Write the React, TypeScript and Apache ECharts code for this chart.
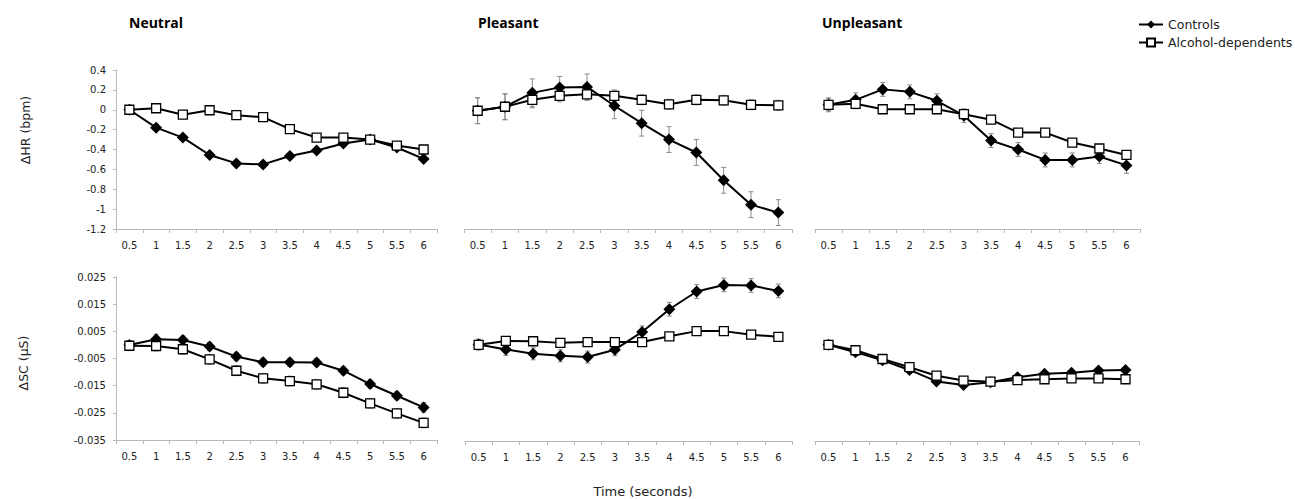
import React, { useEffect, useRef } from 'react';
import * as echarts from 'echarts';

const timeLabels = ['0.5', '1', '1.5', '2', '2.5', '3', '3.5', '4', '4.5', '5', '5.5', '6'];
const panelTitles = ['Neutral', 'Pleasant', 'Unpleasant'];
const groupNames = ['Controls', 'Alcohol-dependents'];

// ΔHR (bpm)
const hrNeutralControls = [0, -0.18, -0.28, -0.455, -0.54, -0.55, -0.465, -0.41, -0.34, -0.3, -0.38, -0.495];
const hrNeutralAlcohol = [0, 0.015, -0.05, -0.005, -0.055, -0.075, -0.195, -0.28, -0.28, -0.3, -0.36, -0.4];
const hrPleasantControls = [-0.01, 0.03, 0.17, 0.225, 0.23, 0.04, -0.135, -0.3, -0.43, -0.71, -0.955, -1.035];
const hrPleasantAlcohol = [-0.01, 0.03, 0.1, 0.14, 0.155, 0.14, 0.1, 0.055, 0.1, 0.095, 0.05, 0.045];
const hrUnpleasantControls = [0.05, 0.1, 0.205, 0.18, 0.09, -0.06, -0.31, -0.4, -0.505, -0.505, -0.47, -0.56];
const hrUnpleasantAlcohol = [0.05, 0.06, 0.005, 0.005, 0.005, -0.045, -0.1, -0.23, -0.23, -0.33, -0.39, -0.455];

const hrNeutralControlsErr = [0.03, 0.03, 0.03, 0.03, 0.03, 0.03, 0.03, 0.03, 0.03, 0.03, 0.03, 0.03];
const hrNeutralAlcoholErr = [0.03, 0.03, 0.03, 0.03, 0.03, 0.03, 0.03, 0.03, 0.03, 0.03, 0.03, 0.03];
const hrPleasantControlsErr = [0.13, 0.13, 0.14, 0.11, 0.13, 0.13, 0.13, 0.13, 0.13, 0.13, 0.13, 0.13];
const hrPleasantAlcoholErr = [0.13, 0.13, 0.08, 0.06, 0.06, 0.06, 0.05, 0.05, 0.05, 0.05, 0.05, 0.05];
const hrUnpleasantControlsErr = [0.06, 0.07, 0.07, 0.07, 0.07, 0.07, 0.07, 0.07, 0.07, 0.07, 0.07, 0.08];
const hrUnpleasantAlcoholErr = [0.07, 0.05, 0.04, 0.04, 0.04, 0.04, 0.04, 0.04, 0.04, 0.04, 0.04, 0.04];

// ΔSC (µS)
const scNeutralControls = [0, 0.0021, 0.0018, -0.0006, -0.0043, -0.0064, -0.0064, -0.0065, -0.0095, -0.0144, -0.0187, -0.023];
const scNeutralAlcohol = [-0.0003, -0.0004, -0.0016, -0.0053, -0.0095, -0.0123, -0.0133, -0.0145, -0.0176, -0.0215, -0.0252, -0.0287];
const scPleasantControls = [0.0003, -0.0015, -0.0031, -0.0038, -0.0043, -0.0016, 0.0049, 0.0132, 0.0197, 0.0221, 0.0219, 0.0199];
const scPleasantAlcohol = [0.0002, 0.0016, 0.0015, 0.0009, 0.0012, 0.0012, 0.0012, 0.0033, 0.0052, 0.0052, 0.0039, 0.0031];
const scUnpleasantControls = [0.0002, -0.0025, -0.0055, -0.009, -0.0132, -0.0145, -0.0135, -0.0117, -0.0104, -0.01, -0.0092, -0.009];
const scUnpleasantAlcohol = [0.0002, -0.0018, -0.005, -0.008, -0.0111, -0.0129, -0.0133, -0.0127, -0.0124, -0.0121, -0.0121, -0.0124];

const scNeutralControlsErr = [0.0015, 0.0018, 0.0015, 0.0015, 0.0015, 0.0015, 0.0015, 0.0015, 0.0015, 0.0015, 0.0015, 0.0018];
const scNeutralAlcoholErr = [0.0018, 0.0018, 0.0018, 0.0018, 0.0018, 0.0018, 0.0018, 0.0018, 0.0018, 0.0018, 0.0018, 0.0018];
const scPleasantControlsErr = [0.002, 0.0022, 0.0022, 0.0022, 0.0022, 0.0022, 0.0022, 0.0025, 0.0025, 0.0025, 0.0025, 0.0025];
const scPleasantAlcoholErr = [0.0018, 0.0012, 0.0012, 0.0012, 0.0012, 0.0012, 0.0012, 0.0012, 0.0012, 0.0012, 0.0012, 0.0012];
const scUnpleasantControlsErr = [0.0008, 0.0008, 0.0008, 0.0008, 0.0008, 0.0008, 0.0008, 0.0008, 0.0008, 0.0008, 0.0008, 0.0008];
const scUnpleasantAlcoholErr = [0.0008, 0.0008, 0.0008, 0.0008, 0.0008, 0.0008, 0.0008, 0.0008, 0.0008, 0.0008, 0.0008, 0.0008];

const hrAxis = { min: -1.2, max: 0.4, interval: 0.2 };
const scAxis = { min: -0.035, max: 0.025, interval: 0.01 };

const panels = [
  { c: hrNeutralControls, a: hrNeutralAlcohol, ce: hrNeutralControlsErr, ae: hrNeutralAlcoholErr, ax: hrAxis, showY: true },
  { c: hrPleasantControls, a: hrPleasantAlcohol, ce: hrPleasantControlsErr, ae: hrPleasantAlcoholErr, ax: hrAxis, showY: false },
  { c: hrUnpleasantControls, a: hrUnpleasantAlcohol, ce: hrUnpleasantControlsErr, ae: hrUnpleasantAlcoholErr, ax: hrAxis, showY: false },
  { c: scNeutralControls, a: scNeutralAlcohol, ce: scNeutralControlsErr, ae: scNeutralAlcoholErr, ax: scAxis, showY: true },
  { c: scPleasantControls, a: scPleasantAlcohol, ce: scPleasantControlsErr, ae: scPleasantAlcoholErr, ax: scAxis, showY: false },
  { c: scUnpleasantControls, a: scUnpleasantAlcohol, ce: scUnpleasantControlsErr, ae: scUnpleasantAlcoholErr, ax: scAxis, showY: false },
];

const gridBoxes = [
  { left: 116, top: 70, width: 321, height: 159 },
  { left: 464, top: 70, width: 328, height: 159 },
  { left: 815, top: 70, width: 325, height: 159 },
  { left: 116, top: 277, width: 321, height: 163 },
  { left: 465, top: 277, width: 327, height: 164 },
  { left: 815, top: 277, width: 324, height: 164 },
];

const FONT = 'DejaVu Sans';
const AXIS_GREY = '#b8b8b8';
const TEXT = '#222';

function errorSeries(values: number[], errs: number[], idx: number) {
  return {
    type: 'custom',
    xAxisIndex: idx,
    yAxisIndex: idx,
    z: 1,
    silent: true,
    encode: { x: 0, y: 1 },
    data: values.map((v, i) => [i, v, errs[i]]),
    renderItem: (params: any, api: any) => {
      const x = api.value(0);
      const y = api.value(1);
      const e = api.value(2);
      const top = api.coord([x, y + e]);
      const bot = api.coord([x, y - e]);
      const w = 2.5;
      const style = { stroke: '#8a8a8a', lineWidth: 1 };
      return {
        type: 'group',
        children: [
          { type: 'line', shape: { x1: top[0], y1: top[1], x2: bot[0], y2: bot[1] }, style },
          { type: 'line', shape: { x1: top[0] - w, y1: top[1], x2: top[0] + w, y2: top[1] }, style },
          { type: 'line', shape: { x1: bot[0] - w, y1: bot[1], x2: bot[0] + w, y2: bot[1] }, style },
        ],
      };
    },
  };
}

function buildOption() {
  const grid = gridBoxes.map((g) => ({ ...g, containLabel: false }));
  const xAxis = panels.map((_, i) => ({
    type: 'category',
    gridIndex: i,
    data: timeLabels,
    boundaryGap: true,
    axisLine: { show: true, onZero: false, lineStyle: { color: AXIS_GREY, width: 1 } },
    axisTick: { show: true, length: 4, interval: 0, lineStyle: { color: AXIS_GREY } },
    axisLabel: { interval: 0, margin: 11, fontFamily: FONT, fontSize: 10, color: TEXT },
    splitLine: { show: false },
  }));
  const yAxis = panels.map((p, i) => ({
    type: 'value',
    gridIndex: i,
    min: p.ax.min,
    max: p.ax.max,
    interval: p.ax.interval,
    show: p.showY,
    axisLine: { show: true, lineStyle: { color: AXIS_GREY, width: 1 } },
    axisTick: { show: true, length: 3, lineStyle: { color: AXIS_GREY } },
    axisLabel: { margin: 10, fontFamily: FONT, fontSize: 10, color: TEXT },
    splitLine: { show: false },
  }));
  const series: any[] = [];
  panels.forEach((p, i) => {
    series.push(errorSeries(p.c, p.ce, i));
    series.push(errorSeries(p.a, p.ae, i));
    series.push({
      type: 'line',
      name: groupNames[0],
      xAxisIndex: i,
      yAxisIndex: i,
      data: p.c,
      z: 3,
      symbol: 'diamond',
      symbolSize: 12,
      showAllSymbol: true,
      lineStyle: { color: '#000', width: 2 },
      itemStyle: { color: '#000', borderColor: '#000', borderWidth: 0 },
    });
    series.push({
      type: 'line',
      name: groupNames[1],
      xAxisIndex: i,
      yAxisIndex: i,
      data: p.a,
      z: 4,
      symbol: 'rect',
      symbolSize: 9,
      showAllSymbol: true,
      lineStyle: { color: '#000', width: 2 },
      itemStyle: { color: '#fff', borderColor: '#000', borderWidth: 1.3 },
    });
  });

  const titleXs = [129, 478, 822];
  const graphic: any[] = [
    ...panelTitles.map((t, i) => ({
      type: 'text',
      x: titleXs[i],
      y: 22,
      style: {
        text: t,
        fontFamily: 'Open Sans',
        fontWeight: 'bold',
        fontSize: 14,
        fill: '#000',
        textAlign: 'left',
        textVerticalAlign: 'middle',
      },
    })),
    {
      type: 'text',
      x: 25,
      y: 130,
      rotation: Math.PI / 2,
      style: { text: 'ΔHR (bpm)', fontFamily: FONT, fontSize: 12.5, fill: TEXT, textAlign: 'center', textVerticalAlign: 'middle' },
    },
    {
      type: 'text',
      x: 23,
      y: 363,
      rotation: Math.PI / 2,
      style: { text: 'ΔSC (µS)', fontFamily: FONT, fontSize: 12.5, fill: TEXT, textAlign: 'center', textVerticalAlign: 'middle' },
    },
    {
      type: 'text',
      x: 643,
      y: 491,
      style: { text: 'Time (seconds)', fontFamily: FONT, fontSize: 13, fill: TEXT, textAlign: 'center', textVerticalAlign: 'middle' },
    },
  ];

  return {
    animation: false,
    backgroundColor: '#fff',
    grid,
    xAxis,
    yAxis,
    series,
    graphic,
    legend: {
      data: groupNames,
      orient: 'vertical',
      left: 1133,
      top: 12,
      itemWidth: 24,
      itemHeight: 10,
      itemGap: 3,
      selectedMode: false,
      textStyle: { fontFamily: FONT, fontSize: 12.5, color: TEXT, lineHeight: 15 },
    },
  };
}

export default function App() {
  const ref = useRef<HTMLDivElement>(null);
  useEffect(() => {
    const chart = echarts.init(ref.current as HTMLDivElement, null, { renderer: 'svg' });
    chart.setOption(buildOption() as any);
    return () => chart.dispose();
  }, []);
  return <div ref={ref} style={{ position: 'absolute', left: 0, top: 0, width: 1295, height: 499 }} />;
}
